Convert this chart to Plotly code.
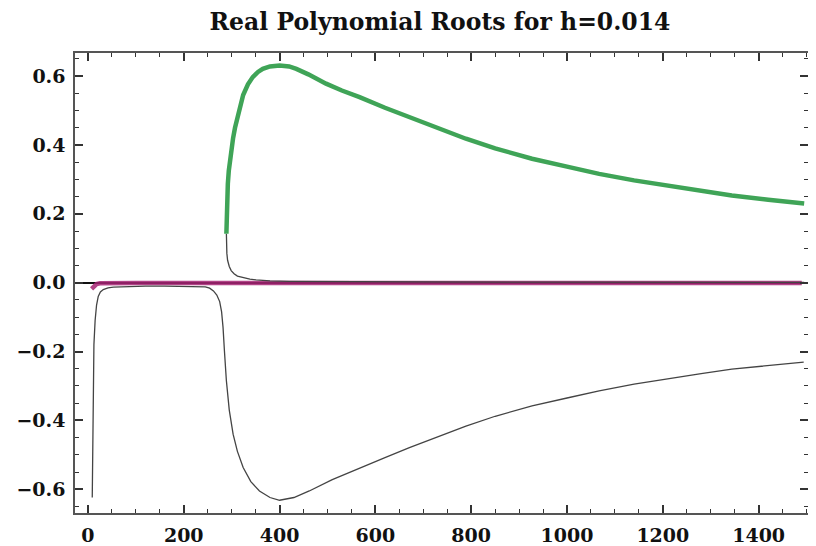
import plotly.graph_objects as go

# Green highlighted root (positive branch)
green_x = [289, 289.6, 290.5, 292, 294, 296.5, 299, 303, 307, 311, 317, 324, 334, 344, 355, 365,
           380, 400, 420, 435, 460, 497, 530, 567, 620, 671, 720, 789, 850, 927, 1000, 1067, 1140,
           1206, 1280, 1344, 1420, 1495]
green_y = [0.142, 0.19, 0.24, 0.287, 0.325, 0.358, 0.384, 0.42, 0.45, 0.475, 0.512, 0.545,
           0.576, 0.597, 0.612, 0.621, 0.628, 0.631, 0.628, 0.621, 0.605, 0.578, 0.558, 0.539,
           0.508, 0.48, 0.454, 0.418, 0.39, 0.36, 0.337, 0.316, 0.297, 0.282, 0.266, 0.253,
           0.241, 0.23]

# Negative real root (thin gray)
neg_x = [9, 9.5, 10, 11, 12.5, 15, 18, 21.5, 26, 32, 42, 53, 80, 120, 160, 200, 230, 245, 254,
         262, 269, 275, 279, 282, 285, 289, 295, 303, 312, 324, 340, 358, 380, 400, 430, 462,
         510, 567, 620, 671, 720, 789, 850, 927, 1000, 1067, 1140, 1206, 1280, 1344, 1420, 1494]
neg_y = [-0.624, -0.52, -0.42, -0.27, -0.18, -0.11, -0.065, -0.04, -0.027, -0.02, -0.015,
         -0.013, -0.011, -0.01, -0.01, -0.01, -0.011, -0.012, -0.016, -0.024, -0.036, -0.055,
         -0.085, -0.13, -0.2, -0.285, -0.37, -0.44, -0.49, -0.537, -0.578, -0.605, -0.624,
         -0.632, -0.624, -0.605, -0.572, -0.538, -0.508, -0.479, -0.453, -0.417, -0.388,
         -0.358, -0.335, -0.314, -0.295, -0.28, -0.264, -0.251, -0.24, -0.231]

# Small positive root decaying to zero (thin gray)
small_x = [289, 289.3, 290, 291.5, 295, 299, 305, 312, 324, 338, 351, 380, 420, 500, 700, 1000, 1495]
small_y = [0.142, 0.11, 0.085, 0.065, 0.047, 0.035, 0.026, 0.019, 0.014, 0.01, 0.008, 0.005,
           0.004, 0.003, 0.002, 0.0015, 0.001]

# Near-zero root (magenta)
mag_x = [7.6, 10, 13, 18, 25, 40, 100, 300, 600, 1000, 1490]
mag_y = [-0.018, -0.014, -0.009, -0.004, -0.002, -0.0015, -0.001, -0.001, -0.001, -0.001, -0.001]

TITLE = "Real Polynomial Roots for h=0.014"
FONT = "DejaVu Serif, Liberation Serif, serif"

fig = go.Figure()
fig.add_trace(go.Scatter(x=mag_x, y=mag_y, mode="lines",
                         line=dict(color="rgba(165,35,115,0.85)", width=4.5)))
fig.add_trace(go.Scatter(x=neg_x, y=neg_y, mode="lines",
                         line=dict(color="#444444", width=1.3)))
fig.add_trace(go.Scatter(x=small_x, y=small_y, mode="lines",
                         line=dict(color="#444444", width=1.3)))
fig.add_trace(go.Scatter(x=green_x, y=green_y, mode="lines",
                         line=dict(color="#3FA457", width=4.5)))

axis_common = dict(
    showgrid=False, ticks="inside", ticklen=8, tickwidth=1.5, tickcolor="#333333",
    showline=True, linecolor="#555555", linewidth=1.5, mirror="ticks", automargin=False,
    tickfont=dict(family=FONT, size=19, color="#111111", weight="bold"),
)

# page body has an 8px default margin: figure is 808x538 so the plot lands where the reference has it
fig.update_layout(
    width=808, height=538,
    margin=dict(l=67, r=8, t=45, b=33),
    plot_bgcolor="white", paper_bgcolor="white",
    showlegend=False,
    title=dict(text=TITLE, x=432 / 808, xanchor="center", y=1 - 14 / 538, yanchor="middle",
               xref="container", yref="container",
               font=dict(family=FONT, size=23.5, color="#111111", weight="bold")),
    xaxis=dict(range=[-27, 1503], tickmode="linear", tick0=0, dtick=200, ticklabelstandoff=4,
               minor=dict(dtick=50, tick0=0, ticklen=4, ticks="inside", tickcolor="#333333", tickwidth=1.2),
               zeroline=False, **axis_common),
    yaxis=dict(range=[-0.669, 0.667], tickmode="linear", tick0=0, dtick=0.2, tickformat=".1f",
               ticklabelstandoff=4,
               minor=dict(dtick=0.05, tick0=0, ticklen=4, ticks="inside", tickcolor="#333333", tickwidth=1.2),
               zeroline=True, zerolinecolor="#111111", zerolinewidth=1.5,
               layer="above traces", **axis_common),
)

fig.write_html("out.html")
